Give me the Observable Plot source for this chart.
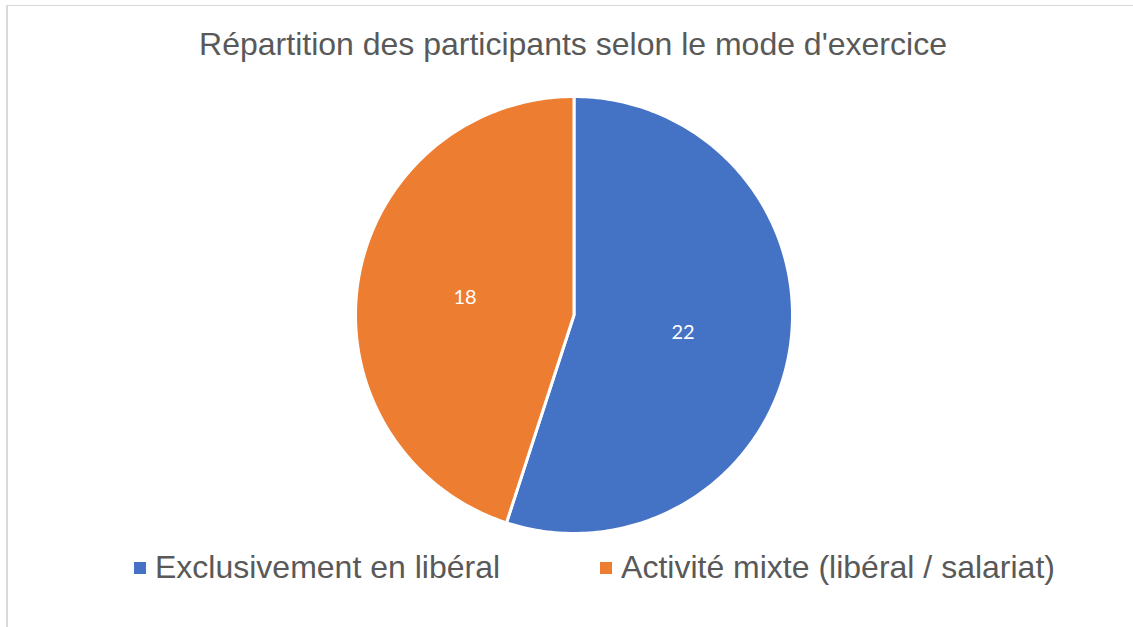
<!DOCTYPE html>
<html>
<head>
<meta charset="utf-8">
<script src="https://cdn.jsdelivr.net/npm/d3@7"></script>
<script src="https://cdn.jsdelivr.net/npm/@observablehq/plot@0.6"></script>
<style>
  html, body { margin: 0; padding: 0; background: #fff; }
  #frame { position: relative; width: 1133px; height: 627px; overflow: hidden; background: #fff; font-family: "Liberation Sans", Arial, sans-serif; }
  #borderTop { position: absolute; left: 6px; top: 5px; width: 1127px; height: 0; border-top: 1px solid #d9d9d9; }
  #borderLeft { position: absolute; left: 6px; top: 5px; width: 0; height: 622px; border-left: 2px solid #d9d9d9; }
  #title { position: absolute; left: 0; top: 28px; width: 1146px; text-align: center; font-size: 32px; line-height: 32px; color: #595959; white-space: nowrap; }
  #legend { position: absolute; left: 134px; top: 551px; display: flex; align-items: center; font-size: 32px; line-height: 32px; color: #595959; white-space: nowrap; }
  .item { display: flex; align-items: center; }
  .item + .item { margin-left: 100px; }
  .swatch { width: 12px; height: 12px; margin-right: 9px; margin-top: 2px; }
  #chart { position: absolute; left: 0; top: 0; }
</style>
</head>
<body>
<div id="frame">
  <div id="chart"></div>
  <div id="borderTop"></div>
  <div id="borderLeft"></div>
  <div id="title"></div>
  <div id="legend"></div>
</div>
<script>
const title = "Répartition des participants selon le mode d'exercice";
const categories = ["Exclusivement en libéral", "Activité mixte (libéral / salariat)"];
const values = [22, 18];
const colors = ["#4472C4", "#ED7D31"];

document.getElementById("title").textContent = title;
const legend = document.getElementById("legend");
categories.forEach((c, i) => {
  const it = document.createElement("div");
  it.className = "item";
  const sw = document.createElement("div");
  sw.className = "swatch";
  sw.style.background = colors[i];
  const tx = document.createElement("span");
  tx.textContent = c;
  it.appendChild(sw); it.appendChild(tx);
  legend.appendChild(it);
});

const data = categories.map((c, i) => ({name: c, value: values[i]}));
const arcs = d3.pie().sort(null).value(d => d.value).startAngle(0).endAngle(2 * Math.PI)(data);

// Polygon outline of each slice (angle clockwise from top)
const slicePts = [];
arcs.forEach(a => {
  const name = a.data.name;
  slicePts.push({name, x: 0, y: 0});
  const steps = Math.max(8, Math.ceil((a.endAngle - a.startAngle) / (Math.PI / 180)));
  for (let k = 0; k <= steps; k++) {
    const t = a.startAngle + (a.endAngle - a.startAngle) * k / steps;
    slicePts.push({name, x: Math.sin(t), y: Math.cos(t)});
  }
});
const labels = arcs.map(a => {
  const m = (a.startAngle + a.endAngle) / 2;
  return {label: String(a.data.value), x: 0.505 * Math.sin(m), y: 0.505 * Math.cos(m)};
});

const plot = Plot.plot({
  width: 1133,
  height: 627,
  marginLeft: 355,
  marginRight: 341,
  marginTop: 96,
  marginBottom: 94,
  x: {domain: [-1, 1], axis: null},
  y: {domain: [-1, 1], axis: null},
  color: {domain: categories, range: colors},
  style: {background: "transparent", overflow: "visible"},
  marks: [
    Plot.line(slicePts, {x: "x", y: "y", z: "name", fill: "name", stroke: "white", strokeWidth: 3, strokeLinejoin: "round", curve: "linear-closed"}),
    Plot.text(labels, {x: "x", y: "y", text: "label", fill: "white", fontSize: 20, fontFamily: "Lato, 'Open Sans', sans-serif"})
  ]
});
document.getElementById("chart").appendChild(plot);
</script>
</body>
</html>
